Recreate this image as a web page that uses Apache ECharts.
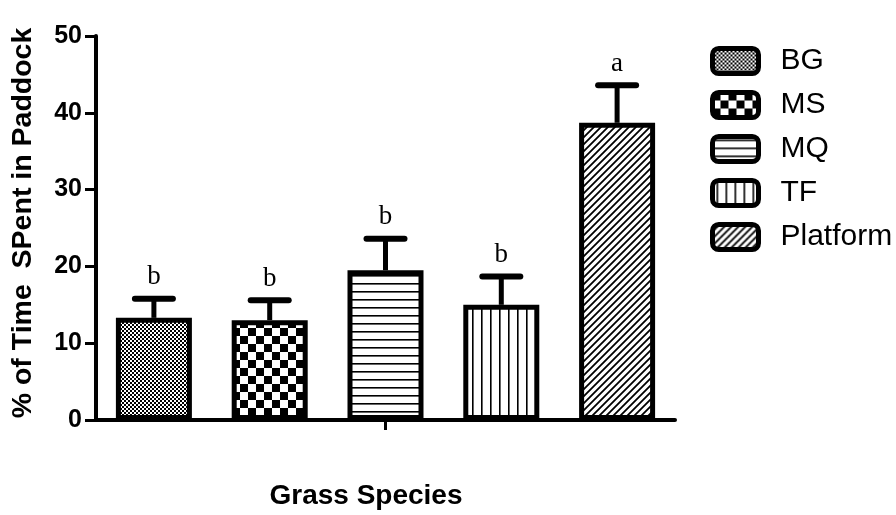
<!DOCTYPE html>
<html><head><meta charset="utf-8">
<script src="https://cdn.jsdelivr.net/npm/echarts@6/dist/echarts.min.js"></script>
<style>html,body{margin:0;padding:0;background:#fff}#c{width:896px;height:515px}</style>
</head><body><div id="c"></div>
<script>
const categories = ['BG', 'MS', 'MQ', 'TF', 'Platform'];
const means = [13.3, 13.0, 19.5, 15.0, 38.7];
const errors = [2.5, 2.6, 4.1, 3.7, 4.9];
const letters = ['b', 'b', 'b', 'b', 'a'];
const yTicks = [0, 10, 20, 30, 40, 50];
const yTitle = '% of Time  SPent in Paddock';
const xTitle = 'Grass Species';

function pat(w, h, draw) {
  const c = document.createElement('canvas');
  c.width = w; c.height = h;
  const g = c.getContext('2d');
  g.fillStyle = '#fff'; g.fillRect(0, 0, w, h);
  g.fillStyle = '#000'; g.strokeStyle = '#000';
  draw(g, w, h);
  return { image: c, repeat: 'repeat' };
}
const patterns = [
  pat(4, 4, g => { g.fillRect(0, 0, 2, 2); g.fillRect(2, 2, 2, 2); }),
  pat(16, 16, g => { g.fillRect(0, 0, 8, 8); g.fillRect(8, 8, 8, 8); }),
  pat(8, 8, g => { g.fillRect(0, 3, 8, 1.6); }),
  pat(9, 8, g => { g.fillRect(4, 0, 1.6, 8); }),
  pat(7, 7, g => {
    g.lineWidth = 1.8;
    g.beginPath();
    g.moveTo(-1, 8); g.lineTo(8, -1);
    g.moveTo(-1, 1); g.lineTo(1, -1);
    g.moveTo(6, 8); g.lineTo(8, 6);
    g.stroke();
  })
];

const barSeries = categories.map((name, i) => ({
  name: name,
  type: 'bar',
  stack: 'all',
  barWidth: 76,
  data: categories.map((_, j) => j === i ? means[i] : '-'),
  itemStyle: { color: patterns[i], borderColor: '#000', borderWidth: 5 },
  emphasis: { disabled: true },
  z: 2
}));

const errSeries = {
  name: 'err',
  type: 'custom',
  z: 3,
  data: categories.map((_, i) => [i, means[i], errors[i]]),
  renderItem: function (params, api) {
    const idx = api.value(0), v = api.value(1), e = api.value(2);
    const base = api.coord([idx, v]);
    const top = api.coord([idx, v + e]);
    const half = 19;
    return {
      type: 'group', children: [
        { type: 'line', shape: { x1: base[0], y1: base[1], x2: top[0], y2: top[1] }, style: { stroke: '#000', lineWidth: 5 } },
        { type: 'line', shape: { x1: top[0] - half, y1: top[1], x2: top[0] + half, y2: top[1] }, style: { stroke: '#000', lineWidth: 6, lineCap: 'round' } },
        { type: 'text', x: top[0], y: top[1] - 8, style: { text: letters[idx], align: 'center', verticalAlign: 'bottom', font: '27px "Liberation Serif"', fill: '#000' } }
      ]
    };
  }
};

const chart = echarts.init(document.getElementById('c'), null, { renderer: 'canvas' });
chart.setOption({
  animation: false,
  backgroundColor: '#fff',
  grid: { left: 96, right: 221, top: 36, bottom: 95, containLabel: false, outerBoundsMode: 'none' },
  legend: {
    data: categories,
    orient: 'vertical',
    left: 705,
    top: 41,
    itemWidth: 46,
    itemHeight: 25,
    itemGap: 14,
    icon: 'roundRect',
    itemStyle: { borderWidth: 5, borderColor: '#000' },
    textStyle: { fontFamily: 'Liberation Sans', fontSize: 30, color: '#000', padding: [0, 0, 0, 17] },
    selectedMode: false
  },
  xAxis: {
    type: 'category',
    data: categories,
    axisLine: { lineStyle: { color: '#000', width: 4 } },
    axisTick: { show: true, alignWithLabel: true, interval: (i) => i === 2, length: 10, lineStyle: { color: '#000', width: 3 } },
    axisLabel: { show: false },
    splitLine: { show: false }
  },
  yAxis: {
    type: 'value',
    min: 0, max: 50, interval: 10,
    axisLine: { show: true, lineStyle: { color: '#000', width: 4 } },
    axisTick: { show: true, length: 11, lineStyle: { color: '#000', width: 3 } },
    axisLabel: { fontFamily: 'Liberation Sans', fontWeight: 'bold', fontSize: 25, color: '#000', margin: 14,
      formatter: v => yTicks.includes(v) ? String(v) : '' },
    splitLine: { show: false }
  },
  graphic: [{
    type: 'text', x: 366, y: 496,
    style: { text: xTitle, align: 'center', verticalAlign: 'middle', font: 'bold 28px "Liberation Sans"', fill: '#000' }
  }, {
    type: 'text', x: 23, y: 223, rotation: Math.PI / 2,
    style: { text: yTitle, align: 'center', verticalAlign: 'middle', font: 'bold 28.5px "Liberation Sans"', fill: '#000' }
  }],
  series: barSeries.concat([errSeries])
});
</script></body></html>
